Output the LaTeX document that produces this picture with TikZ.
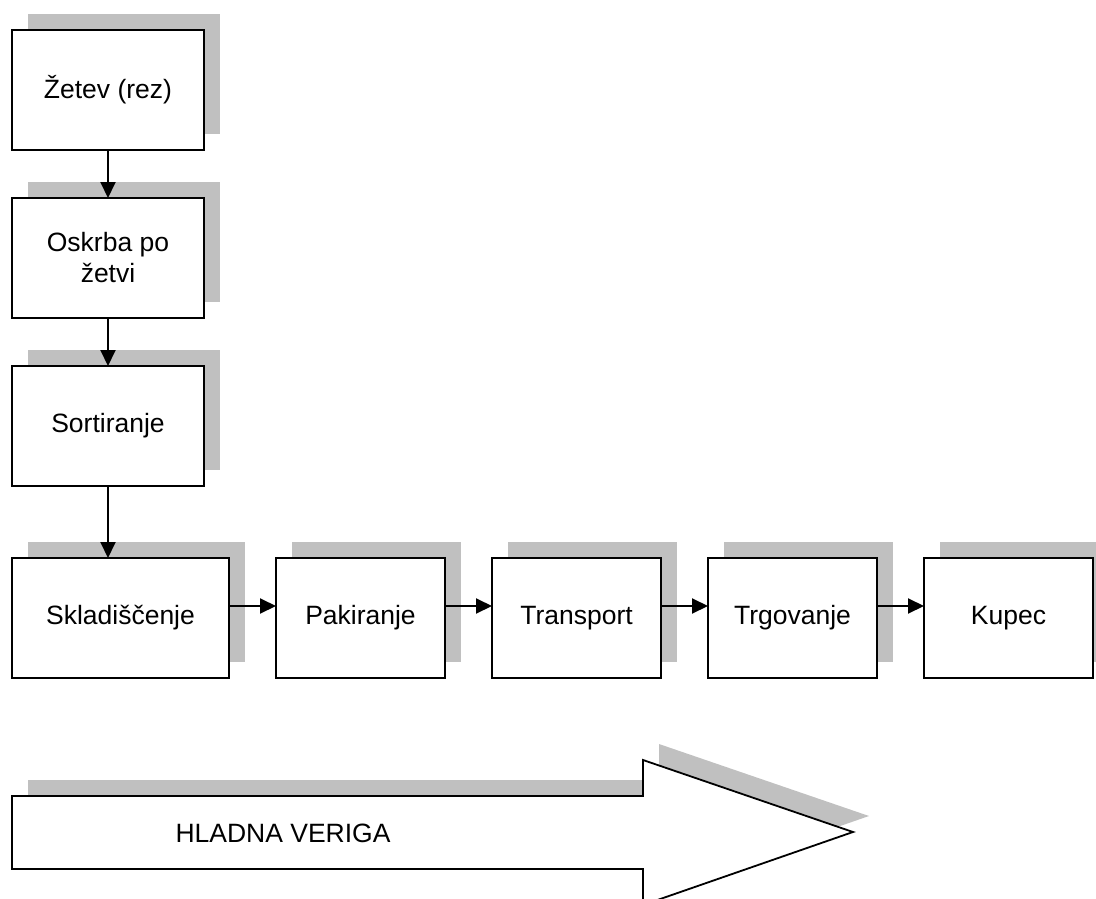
\documentclass[tikz,border=0pt]{standalone}
\usepackage{fontspec}
\setmainfont{Liberation Sans}
\usepackage{xcolor}
\usetikzlibrary{arrows.meta, positioning, shadows}
\definecolor{shadowgray}{RGB}{192,192,192}

\begin{document}
\begin{tikzpicture}[
    x=1pt, y=-1pt,
    node distance=48pt,
    myshadow/.style={
        drop shadow={shadow xshift=16pt, shadow yshift=16pt, fill=shadowgray, opacity=1}
    },
    mybox/.style={
        rectangle,
        draw=black,
        line width=1.8pt,
        fill=white,
        minimum width=192pt,
        minimum height=120pt,
        inner sep=0pt,
        outer sep=0pt,
        align=center,
        font=\fontsize{26.5}{31}\selectfont,
        myshadow
    },
    myarrow/.style={
        -{Triangle[length=16pt, width=15pt]},
        line width=2pt
    }
]
\clip (0,0) rectangle (1096,899);

\node (zetev) [mybox] at (108,90) {Žetev (rez)};
\node (oskrba) [mybox, below=of zetev] {Oskrba po\\žetvi};
\node (sortiranje) [mybox, below=of oskrba] {Sortiranje};
\node (skladiscenje) [mybox, minimum width=217pt, below=72pt of sortiranje.south west, anchor=north west] {Skladiščenje};
\node (pakiranje) [mybox, minimum width=169pt, right=47pt of skladiscenje] {Pakiranje};
\node (transport) [mybox, minimum width=169pt, right=47pt of pakiranje] {Transport};
\node (trgovanje) [mybox, minimum width=169pt, right=47pt of transport] {Trgovanje};
\node (kupec) [mybox, minimum width=169pt, right=47pt of trgovanje] {Kupec};

\draw [myarrow] (zetev) -- (oskrba);
\draw [myarrow] (oskrba) -- (sortiranje);
\draw [myarrow] (sortiranje.south) -- (sortiranje.south |- skladiscenje.north);
\draw [myarrow] ([yshift=12pt]skladiscenje.east) -- ([yshift=12pt]pakiranje.west);
\draw [myarrow] ([yshift=12pt]pakiranje.east) -- ([yshift=12pt]transport.west);
\draw [myarrow] ([yshift=12pt]transport.east) -- ([yshift=12pt]trgovanje.west);
\draw [myarrow] ([yshift=12pt]trgovanje.east) -- ([yshift=12pt]kupec.west);

% hladna veriga
\filldraw [fill=white, draw=black, line width=1.8pt, myshadow]
    (12,796) -- (643,796) -- (643,760) -- (853,832) -- (643,905) -- (643,869) -- (12,869) -- cycle;
\node (veriga) [font=\fontsize{26.5}{31}\selectfont] at (283,833) {HLADNA VERIGA};
\end{tikzpicture}
\end{document}
